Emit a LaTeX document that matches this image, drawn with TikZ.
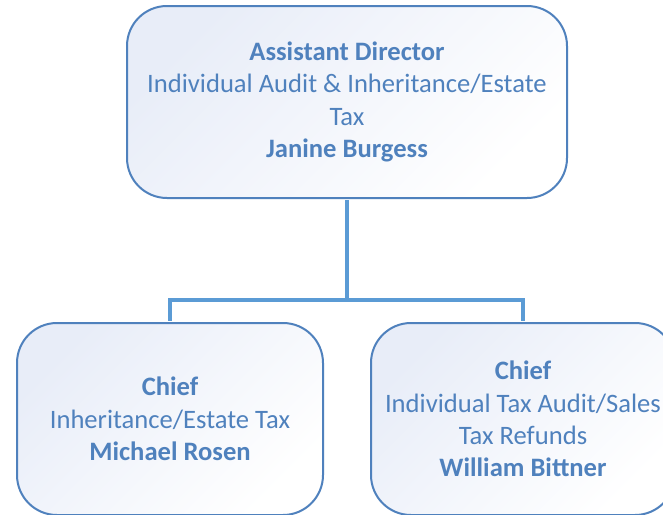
\documentclass[tikz,border=0pt]{standalone}
\usepackage{fontspec}
\setmainfont{Carlito}
\definecolor{txtblue}{RGB}{79,129,189}
\definecolor{edgeblue}{RGB}{79,129,189}
\definecolor{lineblue}{RGB}{91,155,213}
\definecolor{fillblue}{RGB}{232,237,248}
\begin{document}
\begin{tikzpicture}[x=1pt,y=-1pt,
  orgbox/.style={draw=edgeblue, line width=2pt, rounded corners=40pt,
    top color=fillblue, bottom color=white, shading angle=45,
    minimum height=192pt, inner sep=0pt, align=center, text=txtblue,
    font=\fontsize{26.6}{32.4}\selectfont},
  conn/.style={draw=lineblue, line width=4pt}]
\useasboundingbox (0,0) rectangle (663,514);
\clip (0,0) rectangle (663,514);
\fill[white] (0,0) rectangle (663,514);
\node[orgbox, minimum width=440pt] (top) at (347,102)
  {\textbf{Assistant Director}\\Individual Audit \& Inheritance/Estate\\Tax\\\textbf{Janine Burgess}};
\node[orgbox, minimum width=306pt] (left) at (170,419)
  {\textbf{Chief}\\Inheritance/Estate Tax\\\textbf{Michael Rosen}};
\node[orgbox, minimum width=304pt] (right) at (523,419)
  {\textbf{Chief}\\Individual Tax Audit/Sales\\Tax Refunds\\\textbf{William Bittner}};
\coordinate (j) at (347,300);
\draw[conn] ([yshift=-1pt]top.south) -- (j) -| ([yshift=1pt]left.north);
\draw[conn] (j) -| ([yshift=1pt]right.north);
\end{tikzpicture}
\end{document}
